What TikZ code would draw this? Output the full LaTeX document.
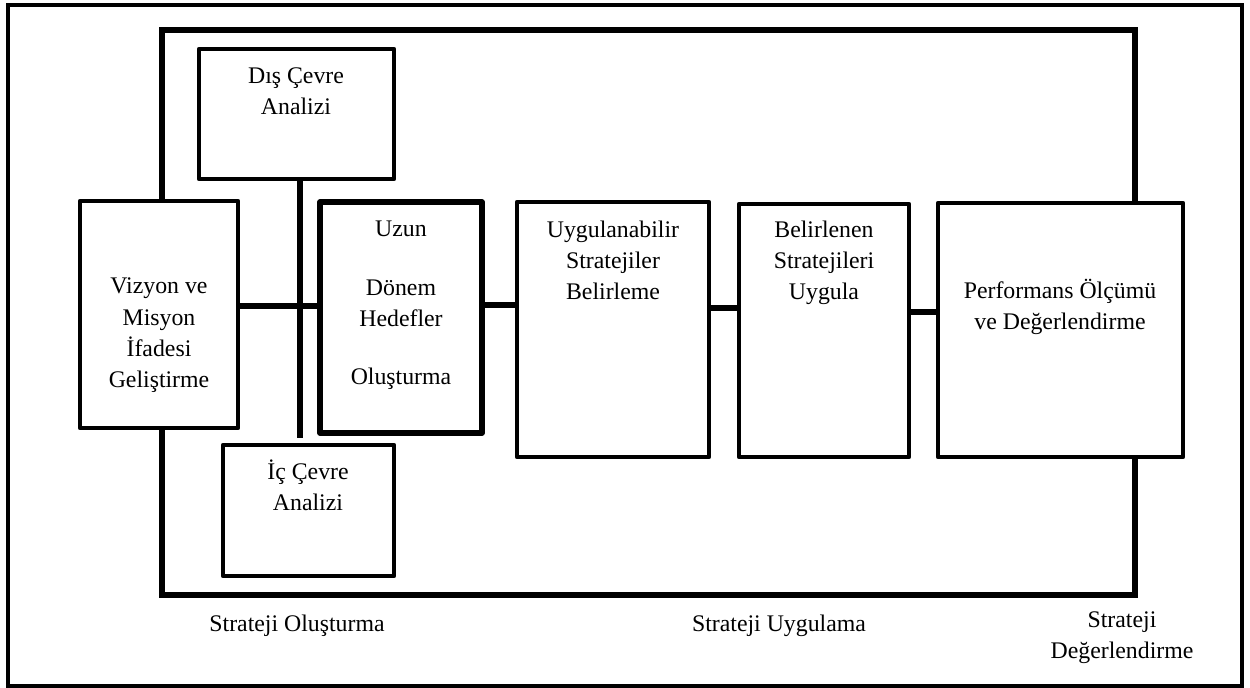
\documentclass[tikz,border=0pt]{standalone}
\usepackage{fontspec}
\setmainfont{Liberation Serif}
\begin{document}
\begin{tikzpicture}[x=0.5pt,y=-0.5pt,
  box/.style={draw,line width=2.2pt,line join=round,inner sep=0pt},
  thickbox/.style={box,line width=2.7pt},
  conn/.style={line width=2.9pt},
  frame/.style={line width=2.7pt,line join=miter},
  txt/.style={align=center,inner sep=0pt,anchor=base,font=\fontsize{11.9}{15.7}\selectfont}]
\useasboundingbox (0,0) rectangle (1250,688);
% outer frame
\node[draw,line width=1.9pt,inner sep=0pt,minimum width=617pt,minimum height=340.5pt] (outer) at (625,345.5) {};
% boxes
\node[box,minimum width=97.5pt,minimum height=65pt] (dis) at (296.5,114) {};
\node[box,minimum width=79pt,minimum height=113.5pt] (viz) at (159,314.5) {};
\node[thickbox,minimum width=81pt,minimum height=115.5pt] (uzun) at (401,317.5) {};
\node[box,minimum width=96pt,minimum height=127.5pt] (uyg) at (613,329.5) {};
\node[box,minimum width=85pt,minimum height=126.5pt] (bel) at (824,330.5) {};
\node[box,minimum width=122.5pt,minimum height=127pt] (perf) at (1060.5,330) {};
\node[box,minimum width=85.5pt,minimum height=65.5pt] (ic) at (308.5,510.5) {};
% inner frame
\coordinate (fTL) at (162,30);
\coordinate (fBR) at (1135,595);
\draw[frame] (viz.north -| fTL) -- (fTL) -- (fTL -| fBR) -- (perf.north -| fBR);
\draw[frame] (viz.south -| fTL) -- (fTL |- fBR) -- (fBR) -- (perf.south -| fBR);
% connectors
\coordinate (v) at (300,0);
\coordinate (h1) at (0,306);
\coordinate (h2) at (0,305);
\coordinate (h3) at (0,308);
\coordinate (h4) at (0,312);
\draw[conn,shorten >=2.5pt] (dis.south -| v) -- (ic.north -| v);
\draw[conn] (viz.east |- h1) -- (uzun.west |- h1);
\draw[conn] (uzun.east |- h2) -- (uyg.west |- h2);
\draw[conn] (uyg.east |- h3) -- (bel.west |- h3);
\draw[conn] (bel.east |- h4) -- (perf.west |- h4);
% texts (anchor base = baseline of the last line)
\node[txt] (tdis) at (296,115) {Dış Çevre\\Analizi};
\node[txt] (tviz) at (159,388) {Vizyon ve\\Misyon\\İfadesi\\Geliştirme};
\node[txt] (tuzun) at (401,385) {Uzun\\[13.5pt]Dönem\\Hedefler\\[13.5pt]Oluşturma};
\node[txt] (tuyg) at (613,300) {Uygulanabilir\\Stratejiler\\Belirleme};
\node[txt] (tbel) at (824,300) {Belirlenen\\Stratejileri\\Uygula};
\node[txt] (tperf) at (1060,330) {Performans Ölçümü\\ve Değerlendirme};
\node[txt] (tic) at (308,511) {İç Çevre\\Analizi};
\node[txt] (lso) at (297,632) {Strateji Oluşturma};
\node[txt] (lsu) at (779,632) {Strateji Uygulama};
\node[txt] (lsd) at (1122,659) {Strateji\\Değerlendirme};
\end{tikzpicture}
\end{document}
